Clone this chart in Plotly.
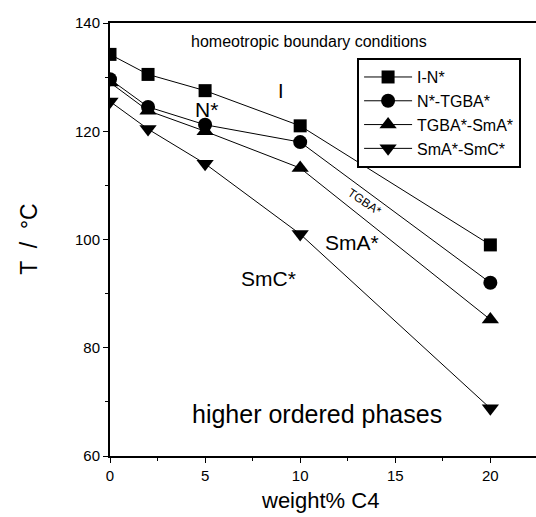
import plotly.graph_objects as go

x_wt = [0, 2, 5, 10, 20]
t_I_N = [134.2, 130.5, 127.5, 121.0, 99.0]
t_N_TGBA = [129.6, 124.5, 121.2, 118.0, 92.0]
t_TGBA_SmA = [129.0, 123.8, 120.0, 113.2, 85.2]
t_SmA_SmC = [125.5, 120.4, 114.0, 101.0, 68.8]

series_names = ["I-N*", "N*-TGBA*", "TGBA*-SmA*", "SmA*-SmC*"]
series_vals = [t_I_N, t_N_TGBA, t_TGBA_SmA, t_SmA_SmC]
symbols = ["square", "circle", "triangle-up", "triangle-down"]
sizes = [13, 14, 15, 15]

FONT = "Arial, Liberation Sans, sans-serif"

fig = go.Figure()
for name, vals, sym, sz in zip(series_names, series_vals, symbols, sizes):
    fig.add_trace(go.Scatter(
        x=x_wt, y=vals, name=name, mode="lines+markers",
        line=dict(color="black", width=1),
        marker=dict(symbol=sym, size=sz, color="black"),
    ))

annotations = [
    dict(x=10.47, y=136.5, text="homeotropic boundary conditions", size=16, angle=0),
    dict(x=9.0, y=127.5, text="I", size=20, angle=0),
    dict(x=5.1, y=124.0, text="N*", size=21, angle=0),
    dict(x=13.4, y=107.0, text="TGBA*", size=12, angle=34),
    dict(x=12.7, y=99.4, text="SmA*", size=21, angle=0),
    dict(x=8.35, y=92.8, text="SmC*", size=21, angle=0),
    dict(x=10.9, y=67.8, text="higher ordered phases", size=25, angle=0),
]
for a in annotations:
    fig.add_annotation(x=a["x"], y=a["y"], text=a["text"], showarrow=False,
                       textangle=a["angle"], font=dict(family=FONT, size=a["size"], color="black"),
                       xanchor="center", yanchor="middle")

# axis titles as paper-anchored text
fig.add_annotation(xref="paper", yref="paper", x=0.493, y=-0.103, text="weight% C4",
                   showarrow=False, xanchor="center", yanchor="middle",
                   font=dict(family=FONT, size=22, color="black"))
fig.add_annotation(xref="paper", yref="paper", x=-0.192, y=0.5, text="T  /  °C",
                   showarrow=False, xanchor="center", yanchor="middle", textangle=-90,
                   font=dict(family=FONT, size=23, color="black"))

fig.update_layout(
    width=536, height=517,
    margin=dict(l=110, r=0, t=23, b=61, autoexpand=False),
    paper_bgcolor="white", plot_bgcolor="white",
    font=dict(family=FONT, color="black"),
    showlegend=True,
    legend=dict(
        x=0.58, y=0.919, xanchor="left", yanchor="top",
        bgcolor="white", bordercolor="black", borderwidth=2,
        itemwidth=48,
        font=dict(family=FONT, size=16, color="black"),
    ),
    xaxis=dict(
        range=[0, 22.4], tickvals=[0, 5, 10, 15, 20], ticks="outside", ticklen=5,
        tickwidth=1, tickcolor="black", automargin=False,
        minor=dict(tickvals=[2.5, 7.5, 12.5, 17.5], ticks="outside", ticklen=3, tickcolor="black"),
        showline=True, linecolor="black", linewidth=1.5, mirror=True,
        showgrid=False, zeroline=False,
        tickfont=dict(family=FONT, size=15, color="black"),
    ),
    yaxis=dict(
        range=[60, 140], tickvals=[60, 80, 100, 120, 140], ticks="outside", ticklen=5,
        tickwidth=1, tickcolor="black", automargin=False,
        minor=dict(tickvals=[70, 90, 110, 130], ticks="outside", ticklen=3, tickcolor="black"),
        showline=True, linecolor="black", linewidth=2, mirror=False,
        showgrid=False, zeroline=False,
        tickfont=dict(family=FONT, size=15, color="black"),
    ),
)

fig.write_html("out.html")
